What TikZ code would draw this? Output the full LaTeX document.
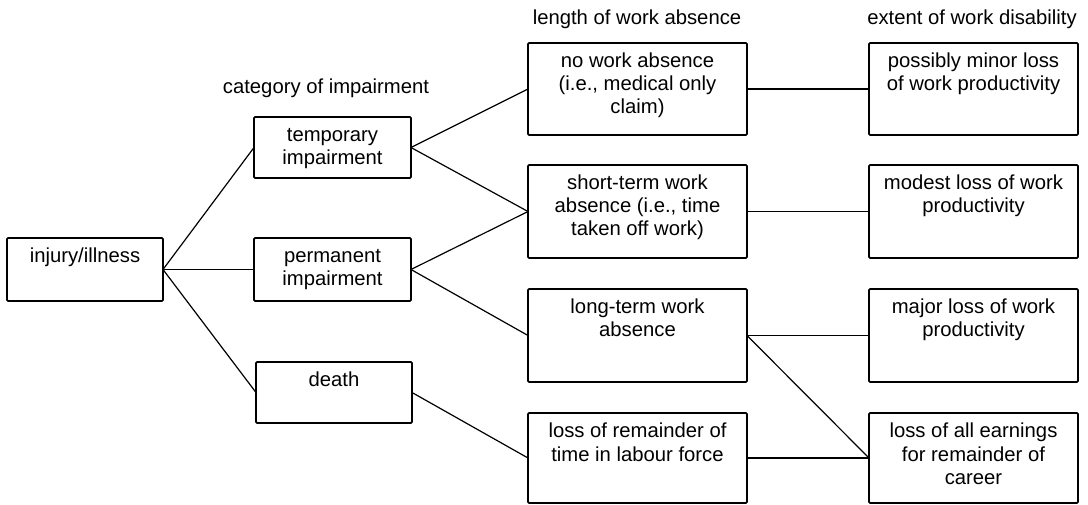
\documentclass[tikz,border=0pt]{standalone}
\usepackage{fontspec}
\setmainfont{Liberation Sans}
\newdimen\pxu \pxu=0.75pt
\newcommand{\bx}[6]{%
  \node[box] (#1) at (#2,#3) {\parbox[c][#5\pxu][t]{#4\pxu}{\centering\rule{0pt}{18.75pt}#6}};}
\tikzset{
  box/.style={draw, line width=1.3pt, rounded corners=0.8pt, inner sep=0pt, outer sep=0pt},
  conn/.style={line width=0.9pt},
  head/.style={anchor=base, inner sep=0pt}
}
\begin{document}
\begin{tikzpicture}[x=0.75pt, y=-0.75pt, font=\fontsize{15.2}{17.25}\selectfont]
\useasboundingbox (0,0) rectangle (1088,505);
% column 1
\bx{inj}{85}{269.5}{156}{63}{injury/illness}
% column 2
\bx{temp}{332.5}{147.5}{157}{61}{temporary\\impairment}
\bx{perm}{332.5}{269.5}{157}{63}{permanent\\impairment}
\bx{death}{334}{392.5}{156}{61}{death}
% column 3
\bx{nowork}{637.5}{89}{219}{92}{no work absence\\(i.e., medical only\\claim)}
\bx{short}{637.5}{211.5}{219}{93}{short-term work\\absence (i.e., time\\taken off work)}
\bx{long}{637.5}{335.5}{219}{93}{long-term work\\absence}
\bx{remain}{637.5}{458}{219}{90}{loss of remainder of\\time in labour force}
% column 4
\bx{minor}{973.5}{89}{209}{92}{possibly minor loss\\of work productivity}
\bx{modest}{973.5}{211.5}{209}{93}{modest loss of work\\productivity}
\bx{major}{973.5}{335.5}{209}{93}{major loss of work\\productivity}
\bx{allearn}{973.5}{458}{209}{90}{loss of all earnings\\for remainder of\\career}
% headers
\node[head] (h2) at (326,94) {category of impairment};
\node[head] (h3) at (637,25) {length of work absence};
\node[head] (h4) at (972,25) {extent of work disability};
% connectors
\draw[conn] (inj.east) -- (temp.west);
\draw[conn] (inj.east) -- (perm.west);
\draw[conn] (inj.east) -- (death.west);
\draw[conn] (temp.east) -- (nowork.west);
\draw[conn] (temp.east) -- (short.west);
\draw[conn] (perm.east) -- (short.west);
\draw[conn] (perm.east) -- (long.west);
\draw[conn] (death.east) -- (remain.west);
\draw[conn] (nowork.east) -- (minor.west);
\draw[conn] (short.east) -- (modest.west);
\draw[conn] (long.east) -- (major.west);
\draw[conn] (long.east) -- (allearn.west);
\draw[conn] (remain.east) -- (allearn.west);
\end{tikzpicture}
\end{document}
